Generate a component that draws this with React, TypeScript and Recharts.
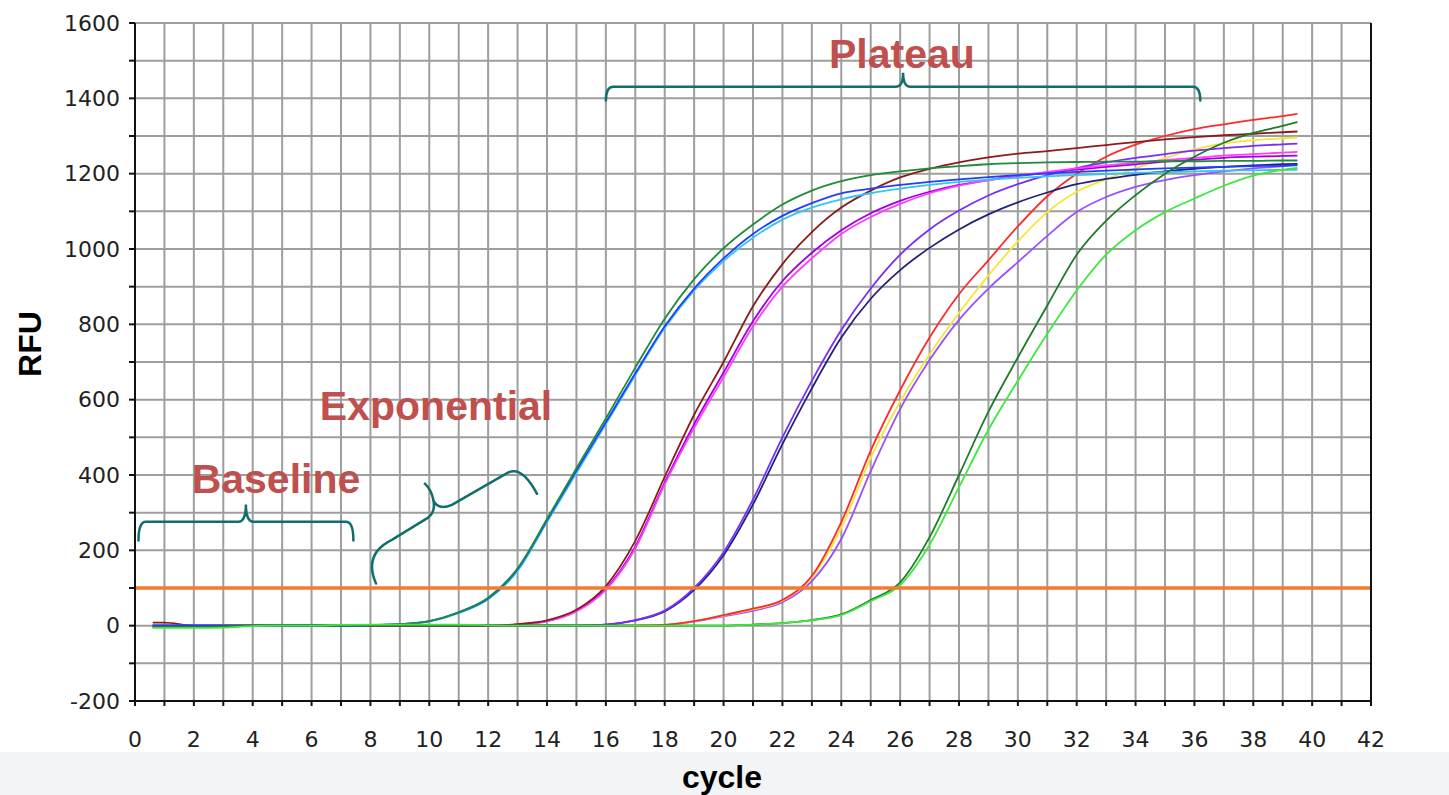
import React from 'react'
import { CartesianGrid, Line, LineChart, ReferenceLine, XAxis, YAxis } from 'recharts'

// amplification cycle at which each reading was taken
const CYCLES = [
  0.6, 1, 2, 3, 4, 5, 6, 7, 8, 9, 10, 11, 12, 13, 14, 15, 16, 17, 18, 19, 20,
  21, 22, 23, 24, 25, 26, 27, 28, 29, 30, 31, 32, 33, 34, 35, 36, 37, 38, 39, 39.5,
]

// RFU per well, grouped by dilution (earliest to latest rise)
const greenA = [-4, -4, -4, -3, 0, 0, 0, 1, 2, 4, 12, 36, 74, 152, 283, 418, 550, 685, 815, 920, 1002, 1065, 1118, 1155, 1180, 1196, 1206, 1214, 1220, 1225, 1228, 1230, 1231, 1232, 1232, 1233, 1233, 1234, 1234, 1235, 1235]
const blueA = [0, 0, 0, 0, 0, 0, 0, 0, 1, 4, 12, 35, 72, 150, 280, 412, 540, 670, 795, 895, 975, 1040, 1088, 1122, 1148, 1160, 1170, 1178, 1185, 1191, 1196, 1201, 1205, 1208, 1211, 1214, 1216, 1218, 1220, 1221, 1222]
const cyanA = [0, 0, 0, 0, 0, 0, 0, 0, 1, 4, 11, 33, 70, 145, 275, 405, 535, 665, 790, 890, 968, 1030, 1078, 1110, 1132, 1148, 1160, 1170, 1178, 1184, 1189, 1193, 1196, 1199, 1202, 1204, 1206, 1208, 1209, 1210, 1210]
const brownB = [8, 8, 0, 0, 0, 0, 0, 0, 0, 0, 0, 0, 0, 4, 14, 42, 105, 225, 395, 560, 700, 848, 960, 1045, 1110, 1155, 1190, 1213, 1230, 1243, 1253, 1260, 1268, 1276, 1284, 1291, 1297, 1302, 1306, 1310, 1312]
const magentaB = [0, 0, 0, 0, 0, 0, 0, 0, 0, 0, 0, 0, 0, 3, 12, 38, 95, 205, 375, 525, 660, 795, 900, 975, 1040, 1085, 1120, 1148, 1168, 1183, 1195, 1205, 1214, 1222, 1229, 1236, 1242, 1248, 1252, 1256, 1258]
const purpleB = [0, 0, 0, 0, 0, 0, 0, 0, 0, 0, 0, 0, 0, 3, 12, 40, 98, 210, 380, 535, 672, 808, 915, 990, 1050, 1095, 1128, 1152, 1170, 1183, 1194, 1203, 1211, 1218, 1225, 1232, 1237, 1242, 1245, 1247, 1248]
const violetC = [0, 0, 0, 0, 0, 0, 0, 0, 0, 0, 0, 0, 0, 0, 0, 0, 3, 15, 40, 100, 195, 335, 500, 650, 785, 895, 985, 1052, 1102, 1142, 1172, 1196, 1215, 1230, 1242, 1252, 1261, 1268, 1274, 1278, 1280]
const navyC = [0, 0, 0, 0, 0, 0, 0, 0, 0, 0, 0, 0, 0, 0, 0, 0, 3, 14, 38, 95, 187, 322, 482, 630, 765, 868, 944, 1003, 1052, 1092, 1124, 1150, 1172, 1186, 1197, 1206, 1213, 1218, 1222, 1225, 1226]
const redD = [0, 0, 0, 0, 0, 0, 0, 0, 0, 0, 0, 0, 0, 0, 0, 0, 0, 0, 2, 12, 28, 45, 68, 132, 275, 465, 625, 765, 880, 970, 1060, 1140, 1200, 1245, 1277, 1300, 1318, 1331, 1343, 1353, 1359]
const yellowD = [0, 0, 0, 0, 0, 0, 0, 0, 0, 0, 0, 0, 0, 0, 0, 0, 0, 0, 2, 12, 27, 43, 66, 128, 260, 445, 595, 720, 830, 930, 1020, 1098, 1152, 1185, 1214, 1241, 1265, 1280, 1289, 1294, 1296]
const violetD = [0, 0, 0, 0, 0, 0, 0, 0, 0, 0, 0, 0, 0, 0, 0, 0, 0, 0, 2, 11, 25, 40, 62, 118, 230, 410, 575, 705, 812, 895, 965, 1035, 1098, 1138, 1165, 1183, 1196, 1206, 1214, 1220, 1224]
const darkGreenE = [-4, -4, -4, -2, 0, 0, 0, 0, 0, 0, 0, 0, 0, 0, 0, 0, 0, 0, 0, 0, 0, 3, 7, 15, 30, 68, 115, 235, 400, 568, 712, 850, 985, 1075, 1143, 1200, 1245, 1282, 1308, 1327, 1337]
const lightGreenE = [-6, -6, -6, -5, -1, 0, 0, 2, 3, 3, 3, 3, 1, 0, 0, 0, 0, 0, 0, 0, 0, 3, 7, 14, 28, 65, 108, 215, 368, 520, 650, 775, 890, 985, 1050, 1098, 1134, 1168, 1195, 1210, 1215]

const THRESHOLD = 100

const X_TICKS = Array.from({ length: 43 }, (_, i) => i)
const Y_TICKS = Array.from({ length: 19 }, (_, i) => -200 + i * 100)

const SERIES = [
  { key: 'violetD', values: violetD, color: '#9b50ff' },
  { key: 'yellowD', values: yellowD, color: '#f5e63a' },
  { key: 'redD', values: redD, color: '#ff2a2a' },
  { key: 'navyC', values: navyC, color: '#22227a' },
  { key: 'violetC', values: violetC, color: '#7a2cff' },
  { key: 'purpleB', values: purpleB, color: '#a000e0' },
  { key: 'magentaB', values: magentaB, color: '#ff3cff' },
  { key: 'brownB', values: brownB, color: '#8c1c1c' },
  { key: 'cyanA', values: cyanA, color: '#33c6f0' },
  { key: 'blueA', values: blueA, color: '#1f3fff' },
  { key: 'greenA', values: greenA, color: '#1e8c3c' },
  { key: 'darkGreenE', values: darkGreenE, color: '#1f7a2c' },
  { key: 'lightGreenE', values: lightGreenE, color: '#3ee83e' },
]

const rows = CYCLES.map((cycle, i) => {
  const row: Record<string, number> = { cycle }
  SERIES.forEach((s) => {
    row[s.key] = s.values[i]
  })
  return row
})

// chart geometry
const W = 1449
const H = 795
const PLOT = { left: 135, right: 1371, top: 23, bottom: 701 }
const X_DOMAIN = [0, 42]
const Y_DOMAIN = [-200, 1600]

const sx = (c: number) =>
  PLOT.left + ((c - X_DOMAIN[0]) / (X_DOMAIN[1] - X_DOMAIN[0])) * (PLOT.right - PLOT.left)
const sy = (v: number) =>
  PLOT.bottom - ((v - Y_DOMAIN[0]) / (Y_DOMAIN[1] - Y_DOMAIN[0])) * (PLOT.bottom - PLOT.top)

const pt = (c: number, v: number) => `${sx(c).toFixed(1)} ${sy(v).toFixed(1)}`

// horizontal curly brace, in (cycle, RFU) units
const brace = (x0: number, x1: number, yEnd: number, yLine: number, yTip: number) => {
  const xc = (x0 + x1) / 2
  const r = 0.25
  return [
    `M ${pt(x0, yEnd)}`,
    `Q ${pt(x0, yLine)} ${pt(x0 + r, yLine)}`,
    `L ${pt(xc - r, yLine)}`,
    `Q ${pt(xc, yLine)} ${pt(xc, yTip)}`,
    `Q ${pt(xc, yLine)} ${pt(xc + r, yLine)}`,
    `L ${pt(x1 - r, yLine)}`,
    `Q ${pt(x1, yLine)} ${pt(x1, yEnd)}`,
  ].join(' ')
}

// slanted brace over the exponential phase
const expBrace = [
  `M ${pt(8.19, 112)} Q ${pt(7.75, 191)} ${pt(8.73, 228)} L ${pt(9.96, 287)}`,
  `Q ${pt(10.23, 303)} ${pt(10.13, 337)} Q ${pt(10.06, 361)} ${pt(9.85, 377)}`,
  `M ${pt(10.13, 334)} Q ${pt(10.3, 305)} ${pt(10.77, 321)} L ${pt(12.67, 406)}`,
  `Q ${pt(13.15, 425)} ${pt(13.66, 350)}`,
].join(' ')

const BRACE_COLOR = '#0f6f6a'
const NOTE_COLOR = '#c0504d'
const TICK_FONT = { fontFamily: 'DejaVu Sans', fontSize: 22, fill: '#222' }

const Annotations = () => (
  <svg
    width={W}
    height={H}
    style={{ position: 'absolute', left: 0, top: 0, pointerEvents: 'none' }}
  >
    <g fill="none" stroke={BRACE_COLOR} strokeWidth={2.5} strokeLinecap="round">
      <path d={brace(0.12, 7.42, 226, 276, 322)} />
      <path d={brace(16.0, 36.2, 1394, 1431, 1468)} />
      <path d={expBrace} />
    </g>
    <g fontFamily="Liberation Sans, Arial, sans-serif" fontWeight="bold" fontSize={41} fill={NOTE_COLOR}>
      <text x={sx(26.06)} y={sy(1481)} textAnchor="middle">Plateau</text>
      <text x={sx(10.23)} y={sy(547)} textAnchor="middle">Exponential</text>
      <text x={sx(4.79)} y={sy(353)} textAnchor="middle">Baseline</text>
    </g>
    <g fontFamily="Liberation Sans, Arial, sans-serif" fontWeight="bold" fontSize={32} fill="#000">
      <text x={722} y={788} textAnchor="middle">cycle</text>
      <text transform="translate(41 344) rotate(-90)" textAnchor="middle">RFU</text>
    </g>
  </svg>
)

const evenOnly = (v: number) => (v % 2 === 0 ? String(v) : '')
const every200 = (v: number) => (v % 200 === 0 ? String(v) : '')

export default function App() {
  return (
    <div style={{ position: 'absolute', left: 0, top: 0, width: W, height: H, background: '#fff' }}>
      <div style={{ position: 'absolute', left: 0, top: 752, width: W, height: H - 752, background: '#f3f4f6' }} />
      <div style={{ position: 'absolute', left: 0, top: 0 }}>
        <LineChart
          width={W}
          height={H}
          data={rows}
          margin={{ top: PLOT.top, right: W - PLOT.right - 70, bottom: H - PLOT.bottom - 40, left: PLOT.left - 70 }}
        >
          <CartesianGrid yAxisId="left" stroke="#9e9e9e" strokeWidth={2} />
          <XAxis
            dataKey="cycle"
            type="number"
            domain={X_DOMAIN}
            ticks={X_TICKS}
            tickFormatter={evenOnly}
            interval={0}
            height={40}
            axisLine={{ stroke: '#111', strokeWidth: 2 }}
            tickLine={{ stroke: '#111', strokeWidth: 2 }}
            tickSize={5}
            tickMargin={25}
            tick={TICK_FONT}
          />
          <YAxis
            yAxisId="left"
            type="number"
            domain={Y_DOMAIN}
            ticks={Y_TICKS}
            tickFormatter={every200}
            interval={0}
            width={70}
            axisLine={{ stroke: '#111', strokeWidth: 2 }}
            tickLine={{ stroke: '#111', strokeWidth: 2 }}
            tickSize={6}
            tickMargin={9}
            tick={TICK_FONT}
          />
          <YAxis
            yAxisId="right"
            orientation="right"
            type="number"
            domain={Y_DOMAIN}
            ticks={Y_TICKS}
            tickFormatter={every200}
            interval={0}
            width={70}
            axisLine={{ stroke: '#111', strokeWidth: 2 }}
            tickLine={{ stroke: '#111', strokeWidth: 2 }}
            tickSize={6}
            tickMargin={9}
            tick={{ ...TICK_FONT, textAnchor: 'start' }}
          />
          {SERIES.map((s) => (
            <Line
              key={s.key}
              yAxisId="left"
              type="monotone"
              dataKey={s.key}
              stroke={s.color}
              strokeWidth={1.8}
              dot={false}
              isAnimationActive={false}
            />
          ))}
          <ReferenceLine yAxisId="left" y={THRESHOLD} stroke="#f47a30" strokeWidth={3.5} />
        </LineChart>
      </div>
      <Annotations />
    </div>
  )
}
